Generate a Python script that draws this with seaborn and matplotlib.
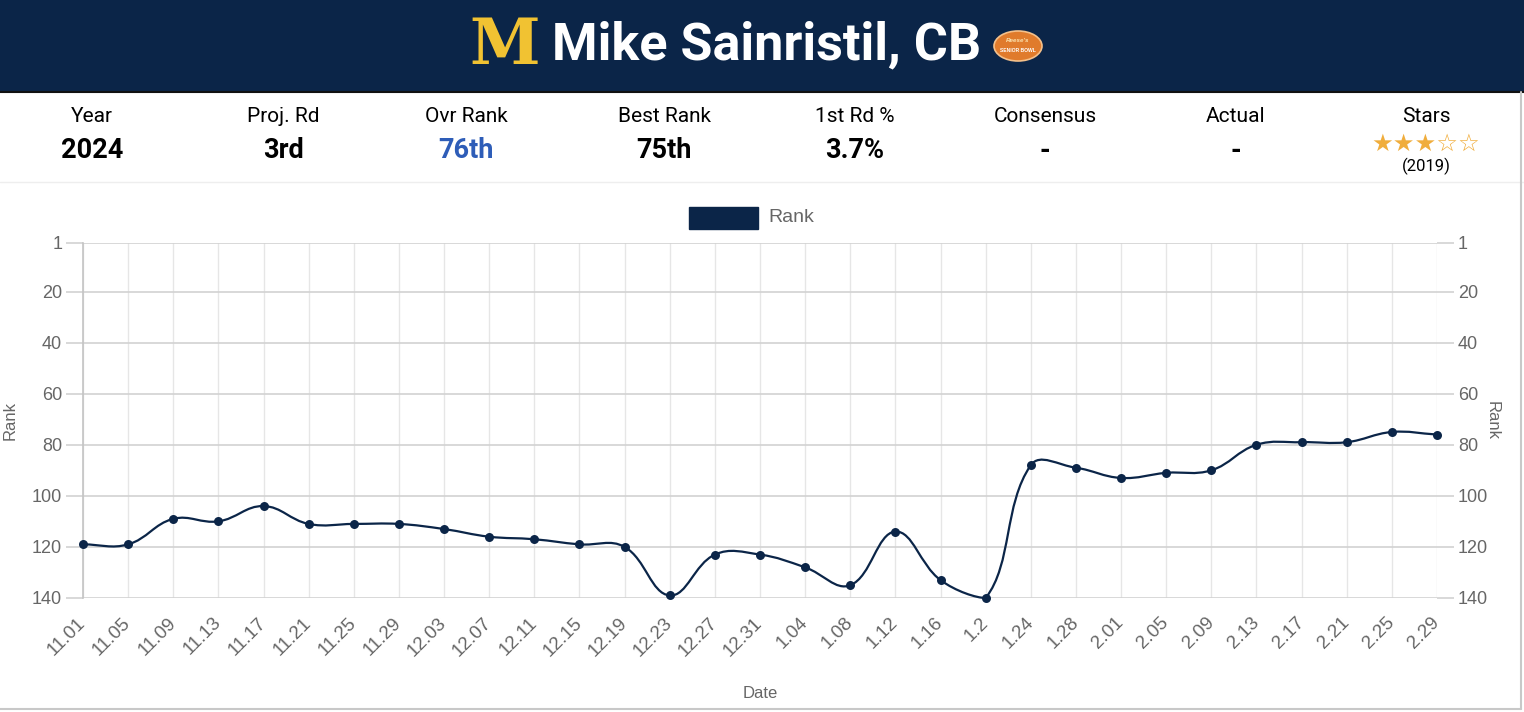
#!/usr/bin/env python3
"""
Draft-rank history card for Mike Sainristil (CB), drawn with seaborn/matplotlib.
"""

import numpy as np
import seaborn as sns
import matplotlib.pyplot as plt
from matplotlib.path import Path
from matplotlib.patches import PathPatch, Rectangle, Ellipse
from matplotlib.lines import Line2D

# --- data ---
dates = ['11.01', '11.05', '11.09', '11.13', '11.17', '11.21', '11.25', '11.29',
         '12.03', '12.07', '12.11', '12.15', '12.19', '12.23', '12.27', '12.31',
         '1.04', '1.08', '1.12', '1.16', '1.2', '1.24', '1.28', '2.01', '2.05',
         '2.09', '2.13', '2.17', '2.21', '2.25', '2.29']
ranks = [119, 119, 109, 110, 104, 111, 111, 111,
         113, 116, 117, 119, 120, 139, 123, 123,
         128, 135, 114, 133, 140, 88, 89, 93, 91,
         90, 80, 79, 79, 75, 76]
rank_ticks = [1, 20, 40, 60, 80, 100, 120, 140]

player_name = 'Mike Sainristil, CB'
stat_labels = ['Year', 'Proj. Rd', 'Ovr Rank', 'Best Rank', '1st Rd %', 'Consensus', 'Actual', 'Stars']
stat_values = ['2024', '3rd', '76th', '75th', '3.7%', '-', '-', None]
star_count = 3
star_year = '(2019)'

NAVY = '#0b2548'
GOLD = '#f1c232'
TICK_GREY = '#666666'
W, H = 1524, 712


def fx(x):
    return x / W


def fy(y):
    return 1 - y / H


def chartjs_curve(ax, xs, ys, tension=0.4):
    """Bezier path through the points, same control-point rule as Chart.js."""
    pts = ax.transData.transform(np.column_stack([xs, ys]))
    n = len(pts)
    prev_cp = pts.copy()
    next_cp = pts.copy()
    for i in range(n):
        p0 = pts[i - 1] if i > 0 else pts[i]
        p1 = pts[i]
        p2 = pts[i + 1] if i < n - 1 else pts[i]
        d01 = np.hypot(*(p1 - p0))
        d12 = np.hypot(*(p2 - p1))
        tot = d01 + d12
        s01 = d01 / tot if tot else 0
        s12 = d12 / tot if tot else 0
        prev_cp[i] = p1 - tension * s01 * (p2 - p0)
        next_cp[i] = p1 + tension * s12 * (p2 - p0)
    bb = ax.bbox
    for cp in (prev_cp, next_cp):
        cp[:, 0] = np.clip(cp[:, 0], bb.x0, bb.x1)
        cp[:, 1] = np.clip(cp[:, 1], bb.y0, bb.y1)
    verts = [pts[0]]
    codes = [Path.MOVETO]
    for i in range(n - 1):
        verts += [next_cp[i], prev_cp[i + 1], pts[i + 1]]
        codes += [Path.CURVE4] * 3
    verts = ax.transData.inverted().transform(np.array(verts))
    return Path(verts, codes)


sns.set_theme(style='white')
plt.rcParams['font.family'] = ['Liberation Sans', 'DejaVu Sans']

fig = plt.figure(figsize=(W / 100, H / 100), dpi=100)
fig.patch.set_facecolor('white')

# header band
fig.patches.append(Rectangle((0, fy(91)), 1, 91 / H, transform=fig.transFigure,
                             facecolor=NAVY, edgecolor='none', zorder=0))
fig.lines.append(Line2D([0, 1], [fy(92), fy(92)], transform=fig.transFigure,
                        color='#111111', lw=1.5))
fig.text(fx(505), fy(46), 'M', family='DejaVu Serif', fontweight='bold', fontsize=46,
         color=GOLD, ha='center', va='center')
fig.text(fx(767), fy(45), player_name, family=['Roboto', 'DejaVu Sans'], fontweight='bold',
         fontsize=37.5, color='white', ha='center', va='center')
fig.patches.append(Ellipse((fx(1018), fy(46)), 48 / W, 30 / H, transform=fig.transFigure,
                           facecolor='#e07b2c', edgecolor='#f4c08a', lw=1.2))
fig.text(fx(1018), fy(41), "Reese's", fontsize=4.5, color='#fbe3b0', style='italic',
         ha='center', va='center', fontweight='bold')
fig.text(fx(1018), fy(50), 'SENIOR BOWL', fontsize=3.6, color='white',
         ha='center', va='center', fontweight='bold')

# stats row
col_x = [92, 283, 466, 664, 855, 1045, 1236, 1426]
for cx, lab, val in zip(col_x, stat_labels, stat_values):
    fig.text(fx(cx), fy(116), lab, family=['Roboto', 'DejaVu Sans'], fontsize=15,
             color='black', ha='center', va='center')
    if val is not None:
        fig.text(fx(cx), fy(151), val, family=['Roboto', 'DejaVu Sans'], fontweight='bold',
                 fontsize=19.5, color='#2e5db8' if lab == 'Ovr Rank' else 'black',
                 ha='center', va='center')
stars = '\u2605' * star_count + '\u2606' * (5 - star_count)
fig.text(fx(1426), fy(144), stars, family='DejaVu Sans', fontsize=17.5, color='#f0ad3c',
         ha='center', va='center')
fig.text(fx(1426), fy(166), star_year, family=['Roboto', 'DejaVu Sans'], fontsize=12,
         color='black', ha='center', va='center')
fig.lines.append(Line2D([0, 1], [fy(182), fy(182)], transform=fig.transFigure,
                        color='#eeeeee', lw=1))

# card border
fig.lines.append(Line2D([fx(1521), fx(1521)], [fy(92), fy(709)], transform=fig.transFigure,
                        color='#c8c8c8', lw=1.5))
fig.lines.append(Line2D([0, fx(1521)], [fy(709), fy(709)], transform=fig.transFigure,
                        color='#c8c8c8', lw=1.5))

# chart
ax = fig.add_axes([fx(83), fy(598), (1437 - 83) / W, (598 - 243) / H])
ax.set_facecolor('none')
sns.scatterplot(x=dates, y=ranks, ax=ax, color=NAVY, s=42, edgecolor=NAVY,
                linewidth=0, zorder=4, clip_on=False)
ax.set_xlim(0, len(dates) - 1)
ax.set_ylim(140, 1)
ax.set_yticks(rank_ticks)
ax.set_xticks(range(len(dates)))
ax.set_xticklabels(dates)

curve = chartjs_curve(ax, np.arange(len(dates)), ranks)
ax.add_patch(PathPatch(curve, facecolor='none', edgecolor=NAVY, lw=1.6, zorder=3,
                       clip_on=False))

ax.grid(axis='y', color='#d2d2d2', lw=1.2)
ax.grid(axis='x', color='#e6e6e6', lw=1.0)
ax.set_axisbelow(True)
for side in ['top', 'right', 'bottom']:
    ax.spines[side].set_visible(False)
ax.spines['left'].set_color('#c4c4c4')
ax.spines['left'].set_linewidth(1.2)

ax.tick_params(axis='y', length=12, width=1.2, color='#d2d2d2', pad=3,
               labelsize=13, labelcolor=TICK_GREY)
ax.tick_params(axis='x', length=12, width=1.0, color='#e6e6e6', pad=4,
               labelsize=13.5, labelcolor=TICK_GREY)
for lab in ax.get_xticklabels():
    lab.set_rotation(45)
    lab.set_ha('right')
    lab.set_va('center')
    lab.set_rotation_mode('anchor')

ax.set_xlabel('Date', fontsize=12, color=TICK_GREY)
ax.xaxis.set_label_coords(0.5, (598 - 686) / 355)
ax.set_ylabel('Rank', fontsize=12, color=TICK_GREY)
ax.yaxis.set_label_coords((18 - 83) / 1354, 0.5)

ax2 = ax.twinx()
ax2.set_ylim(140, 1)
ax2.set_yticks(rank_ticks)
ax2.grid(False)
for side in ['top', 'left', 'bottom', 'right']:
    ax2.spines[side].set_visible(False)
ax2.tick_params(axis='y', length=12, width=1.2, color='#d2d2d2', pad=3,
                labelsize=13, labelcolor=TICK_GREY)
ax2.set_ylabel('Rank', fontsize=12, color=TICK_GREY, rotation=270)
ax2.yaxis.set_label_coords((1500 - 83) / 1354, 0.5)

# legend
fig.patches.append(Rectangle((fx(689), fy(229)), 69 / W, 22 / H, transform=fig.transFigure,
                             facecolor=NAVY, edgecolor=NAVY, lw=1))
fig.text(fx(768), fy(218), 'Rank', fontsize=14, color=TICK_GREY, ha='left', va='center')

fig.savefig('out.png', dpi=100)
